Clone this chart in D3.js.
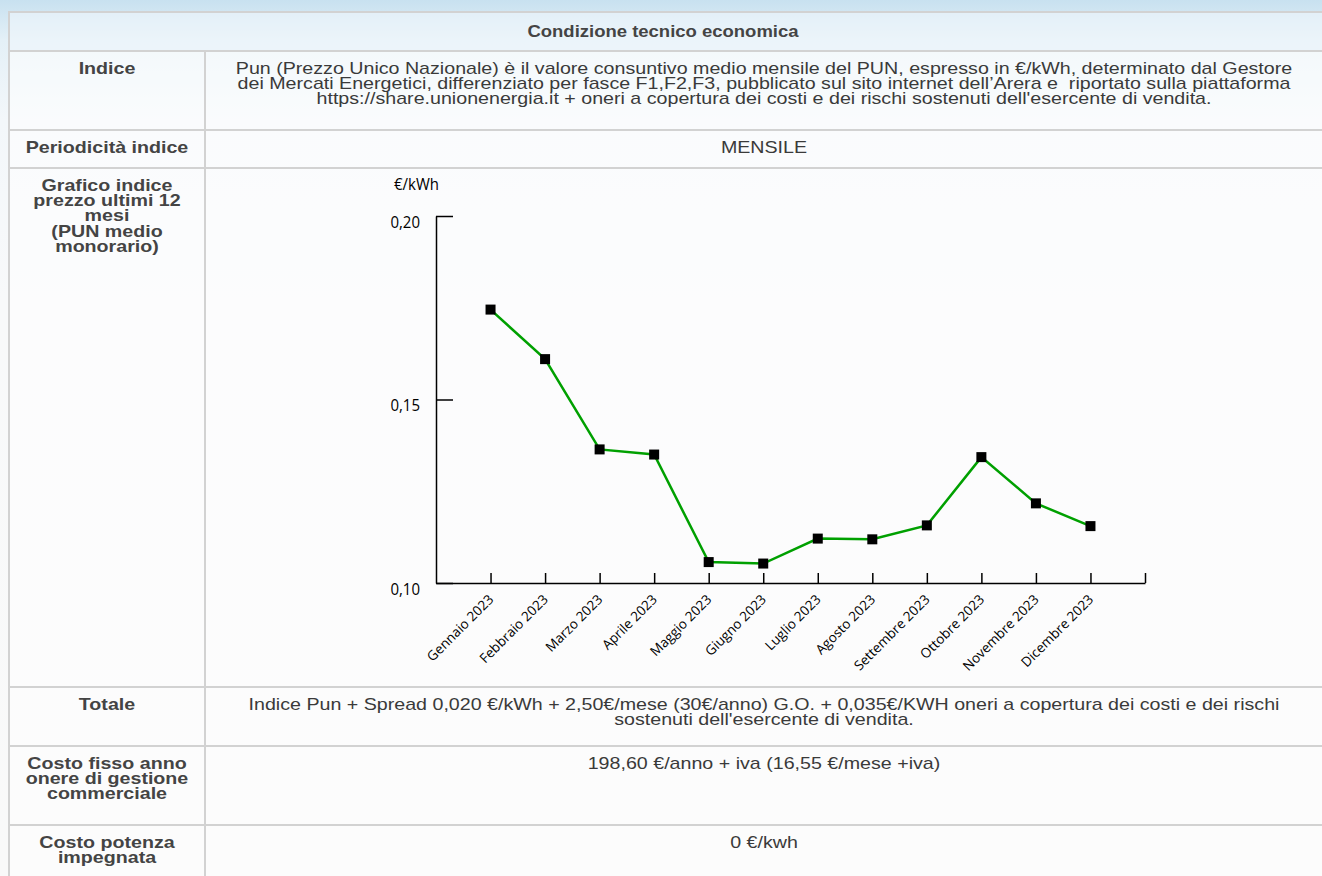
<!DOCTYPE html>
<html>
<head>
<meta charset="utf-8">
<title>Condizione tecnico economica</title>
<script src="https://cdnjs.cloudflare.com/ajax/libs/d3/7.8.5/d3.min.js"></script>
<style>
  body {
    margin: 0;
    width: 1322px;
    height: 876px;
    overflow: hidden;
    font-family: "Liberation Sans", Arial, sans-serif;
    background: linear-gradient(180deg, #c8e1f0 0px, #e4f0f7 40px, #f3f7fa 120px, #f8f9fa 300px, #f9f9f9 876px);
  }
  .cell {
    position: absolute;
    box-sizing: border-box;
    border-top: 2px solid #d2d2d2;
    border-left: 2px solid #d2d2d2;
    text-align: center;
    font-size: 17px;
    line-height: 15.4px;
    color: #444;
    padding-top: 8.5px;
    background: rgba(255, 255, 255, 0.55);
  }
  .cell .in { transform: scaleX(1.155); transform-origin: 50% 0; }
  .lab { font-weight: bold; }
  #chart { position: absolute; left: 0; top: 0; }
  .axis text { font-family: "Open Sans", sans-serif; fill: #000; }
</style>
</head>
<body>
<div id="table"></div>
<svg id="chart" width="1322" height="876"></svg>
<script>
// data
var months = ["Gennaio 2023", "Febbraio 2023", "Marzo 2023", "Aprile 2023", "Maggio 2023", "Giugno 2023",
  "Luglio 2023", "Agosto 2023", "Settembre 2023", "Ottobre 2023", "Novembre 2023", "Dicembre 2023"];
var pun = [0.1745, 0.1610, 0.1364, 0.1350, 0.1057, 0.1053, 0.1121, 0.1119, 0.1157, 0.1343, 0.1217, 0.1155];
var yTicks = [0.10, 0.15, 0.20];

var header = "Condizione tecnico economica";
var rowLabels = [
  ["Indice"],
  ["Periodicità indice"],
  ["Grafico indice", "prezzo ultimi 12", "mesi", "(PUN medio", "monorario)"],
  ["Totale"],
  ["Costo fisso anno", "onere di gestione", "commerciale"],
  ["Costo potenza", "impegnata"]
];
var rowTexts = [
  ["Pun (Prezzo Unico Nazionale) è il valore consuntivo medio mensile del PUN, espresso in €/kWh, determinato dal Gestore",
   "dei Mercati Energetici, differenziato per fasce F1,F2,F3, pubblicato sul sito internet dell’Arera e&nbsp; riportato sulla piattaforma",
   "https://share.unionenergia.it + oneri a copertura dei costi e dei rischi sostenuti dell'esercente di vendita."],
  ["MENSILE"],
  [],
  ["Indice Pun + Spread 0,020 €/kWh + 2,50€/mese (30€/anno) G.O. + 0,035€/KWH oneri a copertura dei costi e dei rischi",
   "sostenuti dell'esercente di vendita."],
  ["198,60 €/anno + iva (16,55 €/mese +iva)"],
  ["0 €/kwh"]
];

// table layout
var rowTops = [50, 129, 167, 686, 745, 824];
var rowBottoms = [129, 167, 686, 745, 824, 900];
var leftX = 8, midX = 204, rightX = 1322;

var table = d3.select("#table");

table.append("div")
  .attr("class", "cell lab")
  .style("left", leftX + "px").style("top", "11px")
  .style("width", (rightX - leftX) + "px").style("height", "39px")
  .style("background", "rgba(240,247,251,0.6)")
  .style("padding-right", "6px")
  .style("font-size", "16px")
  .style("padding-top", "10.5px")
  .append("div").attr("class", "in")
  .text(header);

rowTops.forEach(function(t, i) {
  var h = rowBottoms[i] - t;
  table.append("div")
    .attr("class", "cell lab")
    .style("left", leftX + "px").style("top", t + "px")
    .style("width", (midX - leftX) + "px").style("height", h + "px")
    .append("div").attr("class", "in")
    .html(rowLabels[i].join("<br>"));
  table.append("div")
    .attr("class", "cell")
    .style("left", midX + "px").style("top", t + "px")
    .style("width", (rightX - midX) + "px").style("height", h + "px")
    .style("color", "#3a3a3a")
    .append("div").attr("class", "in")
    .html(rowTexts[i].join("<br>"));
});

// chart
var svg = d3.select("#chart");
var x = d3.scaleLinear().domain([0, 13]).range([436, 1145]);
var y = d3.scaleLinear().domain([0.10, 0.20]).range([583, 216]);
var it = d3.formatLocale({decimal: ",", thousands: ".", grouping: [3], currency: ["€", ""]});
var fmt = it.format(".2f");

svg.append("text")
  .attr("transform", "translate(394,190) scale(1,1.12)")
  .style("font-family", "Open Sans, sans-serif")
  .style("font-size", "15px")
  .text("€/kWh");

var yAxis = svg.append("g")
  .attr("class", "axis")
  .attr("transform", "translate(" + x(0) + ",0)")
  .call(d3.axisRight(y).tickValues(yTicks).tickSize(17).tickSizeOuter(0).tickFormat(fmt));
yAxis.selectAll("path, line").attr("stroke", "#000").attr("stroke-width", 1.5);
yAxis.selectAll("text")
  .attr("x", -16).attr("dy", "0.68em")
  .attr("text-anchor", "end")
  .attr("transform", "scale(1,1.12)")
  .style("font-size", "15px");

var xAxis = svg.append("g")
  .attr("class", "axis")
  .attr("transform", "translate(0," + y(0.10) + ")")
  .call(d3.axisBottom(x).tickValues(d3.range(1, 14)).tickSize(-10).tickSizeOuter(0)
    .tickFormat(function(d) { return months[d - 1] || ""; }));
xAxis.selectAll("path, line").attr("stroke", "#000").attr("stroke-width", 1.5);
xAxis.selectAll("text")
  .attr("y", 0).attr("dy", "0.35em")
  .attr("text-anchor", "end")
  .attr("transform", "translate(0,14) rotate(-45)")
  .style("font-size", "13.5px");

var line = d3.line()
  .x(function(d, i) { return x(i + 1); })
  .y(function(d) { return y(d); });

svg.append("path")
  .datum(pun)
  .attr("d", line)
  .attr("fill", "none")
  .attr("stroke", "#00a000")
  .attr("stroke-width", 2.5);

svg.selectAll("rect.pt")
  .data(pun)
  .enter().append("rect")
  .attr("class", "pt")
  .attr("x", function(d, i) { return x(i + 1) - 5; })
  .attr("y", function(d) { return y(d) - 5; })
  .attr("width", 10).attr("height", 10)
  .attr("fill", "#000");
</script>
</body>
</html>
